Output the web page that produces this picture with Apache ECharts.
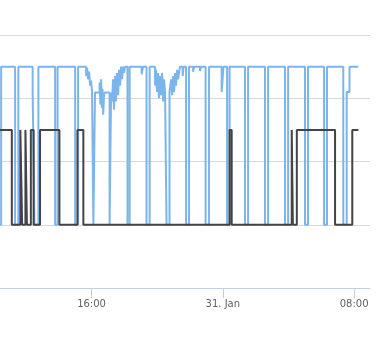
<!DOCTYPE html>
<html>
<head>
<meta charset="utf-8">
<script src="https://cdn.jsdelivr.net/npm/echarts@6/dist/echarts.min.js"></script>
<style>
  html, body { margin: 0; padding: 0; background: #fff; }
  #chart { width: 378px; height: 347px; }
</style>
</head>
<body>
<div id="chart"></div>
<script>
  // Times are hours relative to 31 Jan 00:00, values hold until the next time (step)
  var blueTimes = [
    -14.18, -13.64, -13.51, -12.66, -12.46, -11.59, -11.48, -11.24, -10.22, -10.07,
    -9.00, -8.82, -8.33, -8.27, -8.21, -8.15, -8.09, -8.03, -7.97, -7.89,
    -7.79, -7.51, -7.46, -7.42, -7.37, -7.33, -7.29, -7.24, -7.19, -6.90,
    -6.81, -6.75, -6.69, -6.63, -6.57, -6.51, -6.45, -6.38, -6.32, -6.26,
    -6.20, -6.14, -6.08, -6.02, -5.96, -5.81, -5.68, -4.95, -4.86, -4.65,
    -4.46, -4.13, -4.07, -4.01, -3.95, -3.89, -3.83, -3.76, -3.70, -3.64,
    -3.58, -3.52, -3.43, -3.25, -3.15, -3.09, -3.03, -2.97, -2.91, -2.85,
    -2.79, -2.73, -2.61, -2.45, -2.39, -2.24, -2.06, -1.81, -1.75, -1.39,
    -1.33, -1.05, -0.84, -0.07, 0.04, 0.26, 0.41, 1.35, 1.54, 2.57,
    2.76, 3.79, 3.98, 5.01, 5.19, 6.17, 6.35, 7.34, 7.55, 7.72,
    8.26
  ];
  var blueValues = [
    2.5, 0, 2.5, 0, 2.5, 2.1, 0, 2.5, 0, 2.5,
    0, 2.5, 2.35, 2.48, 2.3, 2.42, 2.2, 2.28, 2.1, 0,
    2.09, 2.25, 1.9, 2.3, 1.85, 2.15, 1.74, 2.05, 2.09, 0,
    2.09, 1.95, 2.3, 1.82, 2.35, 1.95, 2.4, 2.05, 2.45, 2.2,
    2.5, 2.3, 2.5, 2.4, 2.5, 0, 2.5, 2.38, 2.5, 0,
    2.5, 2.2, 2.45, 2.1, 2.4, 2.0, 2.35, 2.05, 2.4, 1.95,
    2.3, 2.1, 0, 2.1, 2.3, 2.05, 2.35, 2.1, 2.4, 2.2,
    2.45, 2.3, 2.5, 2.35, 2.5, 0, 2.5, 2.42, 2.5, 2.43,
    2.5, 0, 2.5, 2.1, 2.5, 0, 2.5, 0, 2.5, 0,
    2.5, 0, 2.5, 0, 2.5, 0, 2.5, 0, 2.1, 2.5,
    2.5
  ];

  var blackTimes = [
    -14.18, -12.86, -12.34, -12.23, -12.03, -11.94, -11.70, -11.53, -11.14, -9.96,
    -8.86, -8.50, 0.41, 0.54, 4.20, 4.27, 4.51, 6.84, 7.89, 8.26
  ];
  var blackValues = [
    1.5, 0, 1.5, 0, 1.5, 0, 1.5, 0, 1.5, 0,
    1.5, 0, 1.5, 0, 1.5, 0, 1.5, 0, 1.5, 1.5
  ];

  var tickHours = [-8, 0, 8];
  var tickLabels = ['16:00', '31. Jan', '08:00'];

  var viewStart = -13.58;
  var viewEnd = 8.97;

  function zip(xs, ys) {
    return xs.map(function (x, i) { return [x, ys[i]]; });
  }

  var chart = echarts.init(document.getElementById('chart'), null, { renderer: 'canvas' });

  chart.setOption({
    backgroundColor: '#ffffff',
    animation: false,
    grid: { left: 0, right: 8, top: 35, bottom: 59 },
    xAxis: {
      type: 'value',
      min: viewStart,
      max: viewEnd,
      splitLine: { show: false },
      axisLine: { onZero: false, lineStyle: { color: '#c0d0e0', width: 1 } },
      axisTick: {
        customValues: tickHours,
        length: 10,
        lineStyle: { color: '#c0d0e0' }
      },
      axisLabel: {
        customValues: tickHours,
        margin: 11,
        color: '#606060',
        fontSize: 10,
        fontFamily: 'DejaVu Sans',
        formatter: function (v) {
          var i = tickHours.indexOf(Math.round(v));
          return i >= 0 ? tickLabels[i] : '';
        }
      }
    },
    yAxis: {
      type: 'value',
      min: -1,
      max: 3,
      interval: 1,
      axisLine: { show: false },
      axisTick: { show: false },
      axisLabel: { show: false },
      splitLine: { lineStyle: { color: '#d8d8d8', width: 1 } }
    },
    series: [
      {
        type: 'line',
        step: 'end',
        showSymbol: false,
        data: zip(blueTimes, blueValues),
        lineStyle: { color: '#7cb5ec', width: 2 }
      },
      {
        type: 'line',
        step: 'end',
        showSymbol: false,
        data: zip(blackTimes, blackValues),
        lineStyle: { color: '#434348', width: 2 }
      }
    ]
  });
</script>
</body>
</html>
